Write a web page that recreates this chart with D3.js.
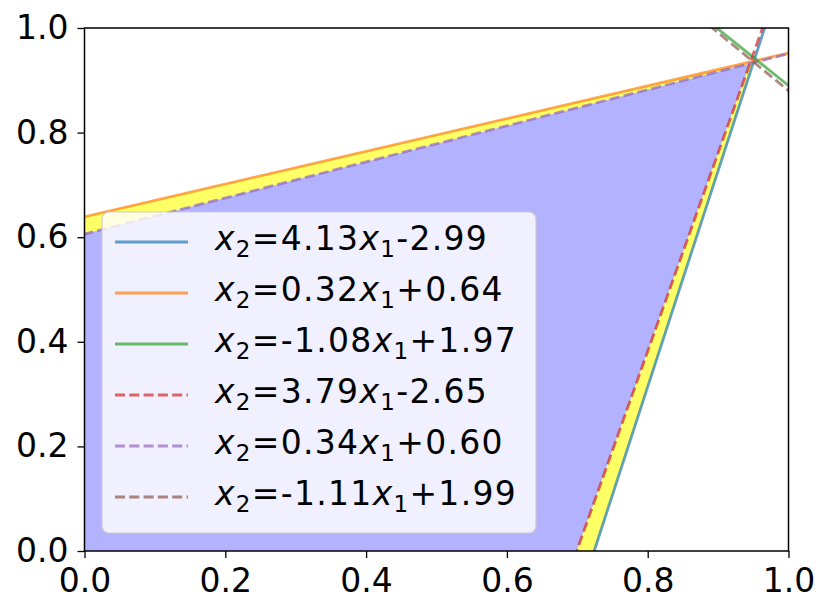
<!DOCTYPE html>
<html><head><meta charset="utf-8">
<script src="https://cdn.jsdelivr.net/npm/d3@7"></script>
<style>body{margin:0;background:#fff}svg{display:block}text{font-family:"DejaVu Sans",sans-serif}</style>
</head><body><svg id="c" width="831" height="615"></svg>
<script>
// plotted constraints: x2 = slope*x1 + intercept (solid: true, dashed: estimated)
const slopes = [4.13, 0.313, -1.08, 3.79, 0.345, -1.11];
const intercepts = [-2.99, 0.639, 1.97, -2.65, 0.606, 1.99];
// legend labels as printed
const labelSlopes = ["4.13","0.32","-1.08","3.79","0.34","-1.11"];
const labelIntercepts = ["-2.99","+0.64","+1.97","-2.65","+0.60","+1.99"];
const colors = ["#1f77b4","#ff7f0e","#2ca02c","#d62728","#9467bd","#8c564b"];
const dashed = [false,false,false,true,true,true];
const ticks = [0,0.2,0.4,0.6,0.8,1.0];

const svg = d3.select("#c");
const L=84.5,R=788.5,T=28,B=551;
const x = d3.scaleLinear().domain([0,1]).range([L,R]);
const y = d3.scaleLinear().domain([0,1]).range([B,T]);

svg.append("clipPath").attr("id","clip").append("rect").attr("x",L).attr("y",T).attr("width",R-L).attr("height",B-T);
const g = svg.append("g").attr("clip-path","url(#clip)");

function region(iSteep, iFlat){
  const a1=slopes[iSteep],b1=intercepts[iSteep],a2=slopes[iFlat],b2=intercepts[iFlat];
  const xi=(b2-b1)/(a1-a2), yi=a1*xi+b1;
  return [[0,0],[-b1/a1,0],[xi,yi],[0,b2]];
}
const line = d3.line().x(d=>x(d[0])).y(d=>y(d[1]));
g.append("path").attr("d",line(region(0,1))+"Z").attr("fill","#ffff66");
g.append("path").attr("d",line(region(3,4))+"Z").attr("fill","#b2b2ff");

slopes.forEach((s,i)=>{
  const pts=[[-0.1,s*-0.1+intercepts[i]],[1.1,s*1.1+intercepts[i]]];
  g.append("path").attr("d",line(pts)).attr("fill","none").attr("stroke",colors[i])
   .attr("stroke-opacity",0.7).attr("stroke-width",2.8)
   .attr("stroke-dasharray",dashed[i]?"10,4.3":null);
});

const fmt = d3.format(".1f");
const xa = svg.append("g").attr("transform",`translate(0,${B})`)
  .call(d3.axisBottom(x).tickValues(ticks).tickFormat(fmt).tickSize(7).tickPadding(11));
const ya = svg.append("g").attr("transform",`translate(${L},0)`)
  .call(d3.axisLeft(y).tickValues(ticks).tickFormat(fmt).tickSize(7).tickPadding(9));
[xa,ya].forEach(a=>{a.select(".domain").remove();a.selectAll("text").attr("font-size",33).attr("fill","#000").attr("font-family","DejaVu Sans");a.selectAll("line").attr("stroke","#000").attr("stroke-width",1.3);});
svg.append("rect").attr("x",L).attr("y",T).attr("width",R-L).attr("height",B-T).attr("fill","none").attr("stroke","#000").attr("stroke-width",1.5);

// legend
const lg = svg.append("g");
lg.append("rect").attr("x",102).attr("y",212).attr("width",434).attr("height",321).attr("rx",7)
  .attr("fill","#fff").attr("fill-opacity",0.8).attr("stroke","#cccccc").attr("stroke-width",1.2);
labelSlopes.forEach((ls,i)=>{
  const yy=242+i*51;
  lg.append("line").attr("x1",115).attr("x2",188).attr("y1",yy).attr("y2",yy)
    .attr("stroke",colors[i]).attr("stroke-opacity",0.7).attr("stroke-width",2.8)
    .attr("stroke-dasharray",dashed[i]?"10,4.3":null);
  const t=lg.append("text").attr("x",215).attr("y",yy+8).attr("font-size",33).attr("fill","#000").attr("letter-spacing","1.3px");
  t.append("tspan").attr("font-style","italic").text("x");
  t.append("tspan").attr("font-size",23).attr("dy",7).text("2");
  t.append("tspan").attr("dy",-7).text("="+ls);
  t.append("tspan").attr("font-style","italic").text("x");
  t.append("tspan").attr("font-size",23).attr("dy",7).text("1");
  t.append("tspan").attr("dy",-7).text(labelIntercepts[i]);
});
</script></body></html>
